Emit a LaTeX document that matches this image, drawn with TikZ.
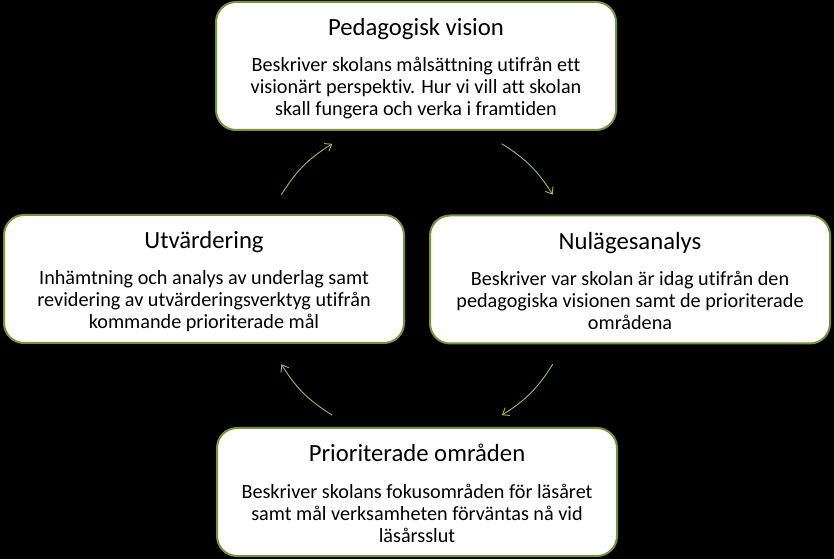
\documentclass[tikz,border=0pt]{standalone}
\usepackage{fontspec}
\setmainfont{Carlito}[Ligatures=NoCommon]
\usetikzlibrary{arrows.meta,calc}

\definecolor{ramgron}{HTML}{77933C}
\definecolor{pilgron}{HTML}{9BBB59}
\newcommand{\rubrik}{\fontsize{24.7}{28}\selectfont\rule{0pt}{26pt}}
\newcommand{\slut}{\rule[-6pt]{0pt}{6pt}}
\newcommand{\brodtext}{\fontsize{20.2}{22}\selectfont}

\begin{document}
\begin{tikzpicture}[x=1pt,y=1pt,
    steg/.style={draw=ramgron, line width=2pt, fill=white, rounded corners=20pt,
        minimum width=400pt, minimum height=128pt, inner sep=0pt,
        align=center, font=\brodtext},
    varv/.style={draw=pilgron, line width=0.9pt,
        -{Straight Barb[length=6pt,width=9pt]}}]
    % Svart bakgrund som bestämmer bildens storlek
    \useasboundingbox[fill=black] (0,0) rectangle (834,559);

    % Rutorna
    \node[steg] (vision) at (416,493)
        {{\rubrik Pedagogisk vision}\\[14pt]
         Beskriver skolans målsättning utifrån ett\\
         visionärt perspektiv. Hur vi vill att skolan\\
         skall fungera och verka i framtiden\slut};

    \node[steg] (analys) at (630,279.5)
        {{\rubrik Nulägesanalys}\\[14pt]
         Beskriver var skolan är idag utifrån den\\
         pedagogiska visionen samt de prioriterade\\
         områdena\slut};

    \node[steg] (omraden) at (417,67)
        {{\rubrik Prioriterade områden}\\[14pt]
         Beskriver skolans fokusområden för läsåret\\
         samt mål verksamheten förväntas nå vid\\
         läsårsslut\slut};

    \node[steg] (utvardering) at (204,280)
        {{\rubrik Utvärdering}\\[14pt]
         Inhämtning och analys av underlag samt\\
         revidering av utvärderingsverktyg utifrån\\
         kommande prioriterade mål\slut};

    % Pilarna runt mitten
    \coordinate (mitt) at (417,279.5);
    \coordinate (a1) at ($(mitt)+(58:160)$);
    \coordinate (b1) at ($(mitt)+(32:160)$);
    \coordinate (a2) at ($(mitt)+(-32:160)$);
    \coordinate (b2) at ($(mitt)+(-58:160)$);
    \coordinate (a3) at ($(mitt)+(-122:160)$);
    \coordinate (b3) at ($(mitt)+(-148:160)$);
    \coordinate (a4) at ($(mitt)+(148:160)$);
    \coordinate (b4) at ($(mitt)+(122:160)$);

    \draw[varv] (a1) to[bend left=13] (b1);
    \draw[varv] (a2) to[bend left=13] (b2);
    \draw[varv] (a3) to[bend left=13] (b3);
    \draw[varv] (a4) to[bend left=13] (b4);

\end{tikzpicture}
\end{document}
